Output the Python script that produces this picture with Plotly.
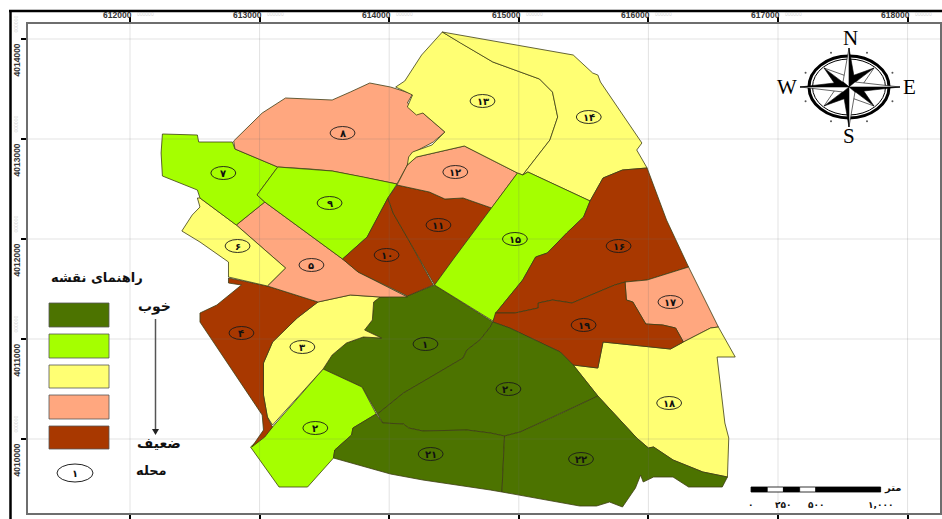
import math
import plotly.graph_objects as go

# ---- tick labels (map metres) ----
X_TICKS = [612000, 613000, 614000, 615000, 616000, 617000, 618000]
Y_TICKS = [4010000, 4011000, 4012000, 4013000, 4014000]
X_RANGE = [611213, 618250]
Y_RANGE = [4009260, 4014150]

# ---- class colours, best to worst ----
GOOD, FAIR, MID, POOR, BAD = "#4C7300", "#A5FF00", "#FFFF73", "#FFA77F", "#A83800"
LEGEND_COLORS = [GOOD, FAIR, MID, POOR, BAD]

# ---- district boundaries, easting/northing in metres ----
D1 = [(614350,4011540),(614800,4011170),(614780,4011120),(614700,4010990),(614600,4010890),(614570,4010810),(614310,4010610),(614110,4010460),(613910,4010250),(613790,4010520),(613490,4010700),(613560,4010840),(613670,4010960),(613800,4011020),(613940,4011010),(613810,4011090),(613870,4011190),(613880,4011370),(613930,4011420),(614140,4011430)]
D2 = [(613490,4010700),(613790,4010520),(613900,4010250),(613720,4010110),(613710,4010040),(613580,4009890),(613570,4009810),(613370,4009520),(613150,4009520),(612930,4009920),(613100,4010120)]
D3 = [(613100,4010140),(613490,4010700),(613560,4010840),(613670,4010960),(613800,4011020),(613940,4011010),(613810,4011090),(613870,4011190),(613880,4011370),(613930,4011420),(613700,4011440),(613450,4011370),(613290,4011210),(613100,4010970),(613030,4010760),(613030,4010440),(613060,4010220)]
D4 = [(612760,4011610),(613060,4011530),(613450,4011370),(613290,4011210),(613100,4010970),(613030,4010760),(613030,4010440),(613060,4010220),(613100,4010120),(613040,4010020),(612940,4009920),(613030,4010090),(613020,4010240),(612540,4011170),(612540,4011260),(612670,4011340),(612860,4011540),(612760,4011560)]
D5 = [(612820,4012140),(613040,4012370),(613640,4011800),(613760,4011670),(614140,4011420),(613930,4011420),(613700,4011440),(613450,4011370),(613060,4011530),(613200,4011710)]
D6 = [(612520,4012410),(612540,4012320),(612480,4012240),(612400,4012080),(612540,4011970),(612760,4011770),(612760,4011620),(613060,4011530),(613200,4011710),(612820,4012140),(612540,4012410)]
D7 = [(612250,4013050),(612520,4013040),(612530,4012970),(612790,4012970),(612810,4012900),(613140,4012720),(612980,4012440),(613040,4012370),(612820,4012140),(612540,4012410),(612520,4012490),(612250,4012630),(612240,4012860)]
D8 = [(612800,4012980),(612930,4013140),(613020,4013260),(613200,4013410),(613370,4013400),(613560,4013390),(613700,4013470),(613850,4013560),(614010,4013520),(614180,4013450),(614140,4013360),(614260,4013260),(614430,4013070),(614340,4012970),(614180,4012860),(614140,4012740),(614060,4012550),(613800,4012620),(613560,4012680),(613390,4012700),(613140,4012720),(612810,4012900)]
D9 = [(613140,4012720),(613390,4012700),(613560,4012680),(613800,4012620),(614060,4012550),(613990,4012410),(613830,4012020),(613640,4011800),(613040,4012370),(612980,4012440)]
D10 = [(613990,4012410),(614030,4012260),(614150,4011990),(614340,4011540),(614140,4011430),(613760,4011670),(613640,4011800),(613830,4012020)]
D11 = [(614060,4012540),(614310,4012470),(614430,4012400),(614570,4012410),(614790,4012310),(614490,4011790),(614350,4011540),(614150,4011990),(614030,4012260),(613990,4012410)]
D12 = [(614060,4012540),(614140,4012740),(614210,4012820),(614580,4012930),(614990,4012660),(614790,4012310),(614570,4012410),(614430,4012400),(614310,4012470)]
D13 = [(614410,4014070),(614550,4013960),(614800,4013770),(615160,4013600),(615260,4013470),(615300,4013220),(615240,4012990),(615030,4012640),(614990,4012660),(614580,4012930),(614210,4012820),(614140,4012740),(614150,4012820),(614180,4012870),(614330,4012940),(614430,4013070),(614260,4013260),(614210,4013240),(614140,4013320),(614180,4013440),(614050,4013520),(614120,4013580),(614250,4013840)]
D14 = [(614410,4014070),(615420,4013840),(615570,4013660),(615610,4013640),(615630,4013570),(615950,4012960),(615910,4012890),(615990,4012710),(615800,4012690),(615650,4012610),(615550,4012380),(615070,4012670),(615030,4012640),(615240,4012990),(615300,4013220),(615260,4013470),(615160,4013600),(614800,4013770),(614550,4013960)]
D15 = [(614990,4012660),(615030,4012640),(615070,4012670),(615550,4012380),(615500,4012220),(615370,4012060),(615220,4011860),(615130,4011820),(615030,4011590),(614860,4011320),(614800,4011180),(614350,4011540),(614490,4011790),(614790,4012310)]
D16 = [(615550,4012380),(615650,4012610),(615800,4012690),(615990,4012710),(616140,4012190),(616310,4011720),(615990,4011590),(615820,4011570),(615740,4011540),(615410,4011360),(615260,4011390),(615150,4011360),(615150,4011310),(614970,4011260),(614820,4011260),(614860,4011320),(615030,4011590),(615130,4011820),(615220,4011860),(615370,4012060),(615500,4012220)]
D17 = [(616310,4011720),(616540,4011120),(616480,4011110),(616270,4010970),(616210,4011110),(616110,4011140),(615980,4011150),(615880,4011370),(615830,4011390),(615820,4011570),(615990,4011590)]
D18 = [(616270,4010970),(616480,4011110),(616540,4011120),(616670,4010820),(616530,4010820),(616590,4010160),(616620,4010010),(616610,4009620),(616420,4009670),(616190,4009790),(616040,4009920),(616000,4009910),(615910,4010010),(615610,4010430),(615420,4010740),(615610,4010710),(615650,4010970),(616170,4010900)]
D19 = [(614820,4011260),(614970,4011260),(615150,4011310),(615150,4011360),(615260,4011390),(615410,4011360),(615740,4011540),(615820,4011570),(615830,4011390),(615880,4011370),(615980,4011150),(616110,4011140),(616210,4011110),(616270,4010970),(616170,4010900),(615650,4010970),(615610,4010710),(615420,4010740),(615320,4010870),(614930,4011110),(614800,4011170)]
D20 = [(614800,4011170),(614930,4011110),(615320,4010870),(615420,4010740),(615610,4010430),(615300,4010240),(615010,4010070),(614890,4010030),(614780,4010060),(614600,4010090),(614260,4010080),(614150,4010110),(614110,4010150),(613950,4010160),(613910,4010250),(614110,4010460),(614310,4010610),(614570,4010810),(614600,4010890),(614700,4010990),(614780,4011120)]
D21 = [(613900,4010250),(613950,4010160),(614110,4010150),(614150,4010110),(614260,4010080),(614600,4010090),(614780,4010060),(614890,4010030),(614870,4009470),(614780,4009490),(614260,4009590),(614010,4009650),(613570,4009810),(613580,4009890),(613710,4010040),(613720,4010110)]
D22 = [(615610,4010430),(615910,4010010),(616000,4009910),(616040,4009920),(616190,4009790),(616420,4009670),(616610,4009620),(616570,4009520),(616310,4009520),(616190,4009620),(616040,4009620),(615960,4009570),(615940,4009640),(615900,4009510),(615800,4009320),(615700,4009370),(615600,4009330),(615470,4009330),(614870,4009470),(614890,4010030),(615010,4010070),(615300,4010240)]

DISTRICTS = [D1, D2, D3, D4, D5, D6, D7, D8, D9, D10, D11, D12, D13, D14, D15, D16, D17, D18, D19, D20, D21, D22]
CLASSES = [GOOD, FAIR, MID, BAD, POOR, MID, FAIR, POOR, FAIR, BAD, BAD, POOR, MID, MID, FAIR, BAD, POOR, MID, BAD, GOOD, GOOD, GOOD]
LABELS = ["۱","۲","۳","۴","۵","۶","۷","۸","۹","۱۰","۱۱","۱۲","۱۳","۱۴","۱۵","۱۶","۱۷","۱۸","۱۹","۲۰","۲۱","۲۲"]
LABEL_E = [614280,613430,613330,612860,613400,612830,612720,613640,613540,613980,614380,614510,614720,615540,614970,615770,616170,616160,615500,614920,614320,615480]
LABEL_N = [4010950,4010110,4010920,4011060,4011740,4011930,4012660,4013060,4012360,4011840,4012140,4012670,4013380,4013220,4012000,4011930,4011370,4010360,4011140,4010500,4009850,4009800]

# ---- scale bar ----
SCALE_ORIGIN_E = 616792
SCALE_STOPS = [0, 125, 250, 375, 500, 1000]
SCALE_TEXT = {0: "۰", 250: "۲۵۰", 500: "۵۰۰", 1000: "۱,۰۰۰"}

# page layout helpers: picture pixels to paper fractions
L, T, R, B = 28, 24, 940, 513
W, H = 942, 519
fx = lambda p: (p - L) / (R - L)
fy = lambda p: 1 - (p - T) / (B - T)

FA = "DejaVu Sans"
CM = dict(xanchor="center", yanchor="middle", showarrow=False)
fig = go.Figure()
shapes, notes = [], []

for poly, col in zip(DISTRICTS, CLASSES):
    xs = [p[0] for p in poly] + [poly[0][0]]
    ys = [p[1] for p in poly] + [poly[0][1]]
    fig.add_trace(go.Scatter(x=xs, y=ys, mode="lines", fill="toself", fillcolor=col,
                             line=dict(color="#3d3d14", width=0.8), hoverinfo="skip", showlegend=False))

# faint graticule over the map
for v in X_TICKS:
    shapes.append(dict(type="line", xref="x", yref="paper", x0=v, x1=v, y0=0, y1=1,
                       line=dict(color="rgba(110,110,110,0.2)", width=1)))
for v in Y_TICKS:
    shapes.append(dict(type="line", xref="paper", yref="y", y0=v, y1=v, x0=0, x1=1,
                       line=dict(color="rgba(110,110,110,0.2)", width=1)))

# district ovals + numbers
for e, n, t in zip(LABEL_E, LABEL_N, LABELS):
    shapes.append(dict(type="circle", xref="x", yref="y", x0=e-96, x1=e+96, y0=n-65, y1=n+65,
                       line=dict(color="#1a1a1a", width=0.9)))
    notes.append(dict(x=e, y=n, xref="x", yref="y", text="<b>%s</b>" % t,
                      font=dict(family=FA, size=10, color="#111"), **CM))

# tick labels, ending at the tick, with the faint ghost seen in the source
GHOST = "rgba(150,150,150,0.45)"
TICK_FONT = dict(family="Liberation Sans", size=8.5, color="#333")
for v in X_TICKS:
    notes.append(dict(x=v, y=fy(15), xref="x", yref="paper", text="<b>%d</b>" % v, showarrow=False,
                      xanchor="right", xshift=4, yanchor="middle", font=TICK_FONT))
    notes.append(dict(x=v, y=fy(14), xref="x", yref="paper", text="000000", showarrow=False,
                      xanchor="left", xshift=5, yanchor="middle", font=dict(family="Liberation Sans", size=5, color=GHOST)))
for v in Y_TICKS:
    notes.append(dict(x=fx(16), y=v, xref="paper", yref="y", text="<b>%d</b>" % v, showarrow=False,
                      textangle=-90, yanchor="top", yshift=-3, xanchor="center", font=TICK_FONT))
    notes.append(dict(x=fx(15), y=v, xref="paper", yref="y", text="000000", showarrow=False,
                      textangle=-90, yanchor="bottom", yshift=4, xanchor="center",
                      font=dict(family="Liberation Sans", size=5, color=GHOST)))

# heavy outer rule on the left and top
for s in (dict(x0=fx(10.5), x1=fx(10.5), y0=fy(11), y1=fy(H)),
          dict(x0=fx(9), x1=fx(W), y0=fy(11), y1=fy(11))):
    shapes.append(dict(type="line", xref="paper", yref="paper", line=dict(color="black", width=2.5), **s))

# legend
for col, (a, b) in zip(LEGEND_COLORS, [(303,327),(334,358),(365,388),(395,419),(426,449)]):
    shapes.append(dict(type="rect", xref="paper", yref="paper", x0=fx(49), x1=fx(109), y0=fy(b), y1=fy(a),
                       fillcolor=col, line=dict(color="#555", width=0.8)))
shapes.append(dict(type="circle", xref="paper", yref="paper", x0=fx(57), x1=fx(93), y0=fy(482), y1=fy(464),
                   line=dict(color="#222", width=1)))
for text, px, py, size in [("راهنمای نقشه", 97, 277, 13), ("خوب", 154, 306, 14), ("ضعیف", 159, 443, 14), ("محله", 151, 470, 13), ("۱", 75, 473, 10)]:
    notes.append(dict(x=fx(px), y=fy(py), xref="paper", yref="paper", text="<b>%s</b>" % text,
                      font=dict(family=FA, size=size, color="#111"), **CM))
shapes.append(dict(type="line", xref="paper", yref="paper", x0=fx(155.5), x1=fx(155.5), y0=fy(319), y1=fy(430),
                   line=dict(color="#555", width=1.5)))
shapes.append(dict(type="path", xref="paper", yref="paper", fillcolor="#222", line=dict(width=0),
                   path="M %f %f L %f %f L %f %f Z" % (fx(152), fy(429), fx(159), fy(429), fx(155.5), fy(435))))

# scale bar, on the map's own scale
for i in range(len(SCALE_STOPS) - 1):
    shapes.append(dict(type="rect", xref="x", yref="y", x0=SCALE_ORIGIN_E + SCALE_STOPS[i], x1=SCALE_ORIGIN_E + SCALE_STOPS[i+1],
                       y0=4009470, y1=4009520, fillcolor="black" if i % 2 == 0 else "white",
                       line=dict(color="black", width=0.8)))
for d, t in SCALE_TEXT.items():
    notes.append(dict(x=SCALE_ORIGIN_E + d, y=fy(505), xref="x", yref="paper", text="<b>%s</b>" % t,
                      font=dict(family=FA, size=9, color="#111"), **CM))
notes.append(dict(x=fx(893), y=fy(488), xref="paper", yref="paper", text="<b>متر</b>",
                  font=dict(family=FA, size=10, color="#111"), **CM))

# compass rose
CX, CY = 849, 87
def tri(pts, fill):
    d = "M " + " L ".join("%f %f" % (fx(CX + a), fy(CY + b)) for a, b in pts) + " Z"
    shapes.append(dict(type="path", xref="paper", yref="paper", path=d, fillcolor=fill,
                       line=dict(color="black", width=0.6)))
def oval(rx, ry, w, col="black"):
    shapes.append(dict(type="circle", xref="paper", yref="paper", x0=fx(CX-rx), x1=fx(CX+rx), y0=fy(CY+ry), y1=fy(CY-ry),
                       line=dict(color=col, width=w)))
oval(40, 31, 3)
oval(36.5, 28, 1)
for k in range(8):
    a = math.radians(22.5 + 45 * k)
    px, py = 47 * math.cos(a), 37 * math.sin(a)
    shapes.append(dict(type="circle", xref="paper", yref="paper", x0=fx(CX+px-1), x1=fx(CX+px+1),
                       y0=fy(CY+py+1), y1=fy(CY+py-1), fillcolor="#555", line=dict(width=0)))
for sx, sy in [(1, -1), (1, 1), (-1, 1), (-1, -1)]:
    tip = (sx * 25, sy * 19)
    cw = (0, sy * 10) if sx * sy < 0 else (sx * 12, 0)
    ccw = (sx * 12, 0) if sx * sy < 0 else (0, sy * 10)
    tri([(0, 0), tip, cw], "black")
    tri([(0, 0), tip, ccw], "white")
for tip, w_black, w_white in [((0, -39), (6, -5), (-6, -5)), ((51, 0), (6, 5), (6, -5)),
                              ((0, 40), (-6, 5), (6, 5)), ((-49, 0), (-6, -5), (-6, 5))]:
    tri([(0, 0), tip, w_black], "black")
    tri([(0, 0), tip, w_white], "white")
for t, a, b in [("N", 1, -49), ("S", 0, 49), ("W", -62, 0), ("E", 60, 0)]:
    notes.append(dict(x=fx(CX + a), y=fy(CY + b), xref="paper", yref="paper", text=t,
                      font=dict(family="Liberation Serif", size=21, color="black"), **CM))

axis = dict(showgrid=False, zeroline=False, showticklabels=False, ticks="outside", ticklen=5, tickwidth=1.5,
            tickcolor="black", showline=True, linecolor="#6e6e6e", linewidth=2, mirror="ticks")
fig.update_layout(
    width=W, height=H, paper_bgcolor="white", plot_bgcolor="white",
    margin=dict(l=L, r=W - R, t=T, b=H - B, pad=0, autoexpand=False),
    xaxis=dict(range=X_RANGE, tickvals=X_TICKS, **axis),
    yaxis=dict(range=Y_RANGE, tickvals=Y_TICKS, **axis),
    shapes=shapes, annotations=notes, showlegend=False,
)
fig.write_html("out.html", config=dict(displayModeBar=False),
               post_script="document.body.style.margin='0';")
